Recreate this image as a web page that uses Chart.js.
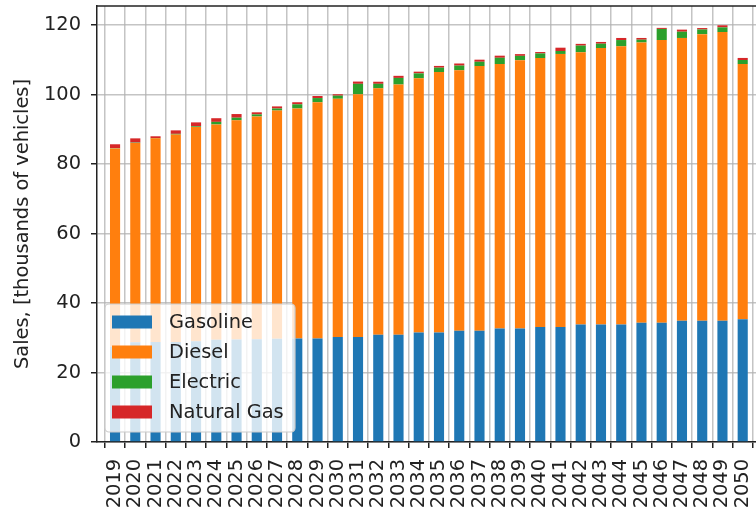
<!DOCTYPE html>
<html>
<head>
<meta charset="utf-8">
<script src="https://cdn.jsdelivr.net/npm/chart.js@4.4.1/dist/chart.umd.min.js"></script>
<style>
  html, body { margin: 0; padding: 0; background: #fff; overflow: hidden; }
</style>
</head>
<body>
<canvas id="salesChart" width="756" height="512"></canvas>
<script>
// Sales by fuel type, thousands of vehicles
const years = [2019, 2020, 2021, 2022, 2023, 2024, 2025, 2026, 2027, 2028, 2029, 2030,
  2031, 2032, 2033, 2034, 2035, 2036, 2037, 2038, 2039, 2040, 2041, 2042, 2043, 2044,
  2045, 2046, 2047, 2048, 2049, 2050];

const gasoline = [27.4, 28.7, 28.8, 28.8, 29.0, 29.4, 29.5, 29.6, 29.7, 29.8, 29.8, 30.2,
  30.2, 30.9, 30.9, 31.5, 31.5, 32.0, 32.0, 32.7, 32.7, 33.1, 33.1, 33.8, 33.8, 33.8,
  34.3, 34.3, 34.9, 34.9, 34.9, 35.3];

const diesel = [57.1, 57.4, 58.6, 59.7, 61.7, 62.0, 63.1, 64.1, 65.7, 66.2, 68.0, 68.6,
  69.9, 70.9, 72.0, 73.2, 75.0, 75.0, 76.2, 76.1, 77.2, 77.4, 78.6, 78.4, 79.6, 80.1,
  80.7, 81.4, 81.4, 82.5, 83.1, 73.5];

const electric = [0.1, 0.1, 0.1, 0.2, 0.2, 0.75, 0.75, 0.6, 0.6, 1.2, 1.2, 0.9,
  3.0, 1.3, 1.9, 1.4, 1.25, 1.35, 1.25, 1.8, 1.25, 1.35, 0.85, 1.9, 1.25, 1.8,
  0.8, 3.2, 1.8, 1.35, 1.35, 1.15];

const naturalGas = [1.1, 1.2, 0.5, 1.0, 1.1, 1.05, 1.05, 0.6, 0.6, 0.6, 0.6, 0.4,
  0.65, 0.6, 0.6, 0.5, 0.5, 0.6, 0.6, 0.6, 0.5, 0.4, 0.95, 0.5, 0.5, 0.6,
  0.5, 0.3, 0.6, 0.4, 0.6, 0.6];

const yTicks = [0, 20, 40, 60, 80, 100, 120];

const FONT = '"DejaVu Sans", sans-serif';
const FONT_SIZE = 19.4;
const TEXT = '#222';
const SPINE = '#222';
const GRID = 'rgba(176,176,176,0.75)';

// top spine + matplotlib style legend in the lower left corner
const frameAndLegend = {
  id: 'frameAndLegend',
  afterDraw(chart) {
    const { ctx, chartArea: a } = chart;
    ctx.save();
    ctx.strokeStyle = SPINE;
    ctx.lineWidth = 1.5;
    ctx.beginPath();
    ctx.moveTo(a.left, a.top);
    ctx.lineTo(a.right, a.top);
    ctx.stroke();

    const w = 190, h = 128;
    const x = a.left + 8, y = a.bottom - 10 - h;
    ctx.beginPath();
    ctx.roundRect(x, y, w, h, 4);
    ctx.fillStyle = 'rgba(255,255,255,0.8)';
    ctx.fill();
    ctx.strokeStyle = '#cccccc';
    ctx.lineWidth = 1.2;
    ctx.stroke();

    ctx.font = `${FONT_SIZE}px ${FONT}`;
    ctx.textBaseline = 'middle';
    chart.data.datasets.forEach((ds, i) => {
      const cy = y + 18 + i * 30;
      ctx.fillStyle = ds.backgroundColor;
      ctx.fillRect(x + 7, cy - 6.5, 40, 13);
      ctx.fillStyle = TEXT;
      ctx.fillText(ds.label, x + 64, cy + 1);
    });
    ctx.restore();
  }
};

new Chart(document.getElementById('salesChart'), {
  type: 'bar',
  data: {
    labels: years,
    datasets: [
      { label: 'Gasoline', data: gasoline, backgroundColor: '#1f77b4' },
      { label: 'Diesel', data: diesel, backgroundColor: '#ff7f0e' },
      { label: 'Electric', data: electric, backgroundColor: '#2ca02c' },
      { label: 'Natural Gas', data: naturalGas, backgroundColor: '#d62728' }
    ]
  },
  options: {
    responsive: false,
    animation: false,
    devicePixelRatio: 1,
    barPercentage: 0.5,
    categoryPercentage: 1.0,
    layout: { padding: { top: 6, left: 0, right: 0, bottom: 0 } },
    plugins: {
      legend: { display: false },
      tooltip: { enabled: false }
    },
    scales: {
      x: {
        type: 'linear',
        stacked: true,
        min: 2018.617,
        max: 2050.148,
        grid: { color: GRID, lineWidth: 1.5, tickColor: SPINE, tickWidth: 1.5, tickLength: 6 },
        border: { display: true, color: SPINE, width: 1.5 },
        ticks: {
          stepSize: 1,
          includeBounds: false,
          autoSkip: false,
          minRotation: 90,
          maxRotation: 90,
          padding: 11,
          color: TEXT,
          font: { family: FONT, size: FONT_SIZE },
          callback: (v) => String(v)
        },
        afterFit(scale) {
          scale.height = 70;
          scale.paddingLeft = 0;
          scale.paddingRight = 0;
        }
      },
      y: {
        stacked: true,
        min: 0,
        max: 125.5,
        grid: { color: GRID, lineWidth: 1.5, tickColor: SPINE, tickWidth: 1.5, tickLength: 6 },
        border: { display: true, color: SPINE, width: 1.5 },
        afterBuildTicks(scale) {
          scale.ticks = yTicks.map(v => ({ value: v }));
        },
        ticks: {
          padding: 10,
          color: TEXT,
          font: { family: FONT, size: FONT_SIZE }
        },
        title: {
          display: true,
          text: 'Sales, [thousands of vehicles]',
          color: TEXT,
          padding: { top: 11, bottom: 0 },
          font: { family: FONT, size: FONT_SIZE }
        },
        afterFit(scale) {
          scale.width = 97;
          scale.paddingTop = 0;
          scale.paddingBottom = 0;
        }
      }
    }
  },
  plugins: [frameAndLegend]
});
</script>
</body>
</html>
